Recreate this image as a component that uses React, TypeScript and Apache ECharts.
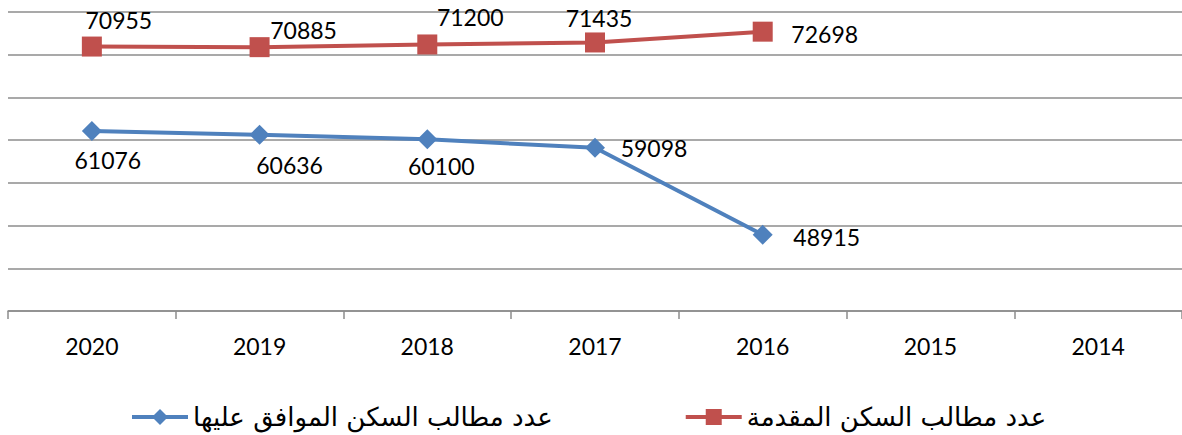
import React, { useEffect, useRef } from "react";
import * as echarts from "echarts";

const categories = ["2020", "2019", "2018", "2017", "2016", "2015", "2014"];
const submitted = [70955, 70885, 71200, 71435, 72698, null, null];
const approved = [61076, 60636, 60100, 59098, 48915, null, null];
const submittedName = "عدد مطالب السكن المقدمة";
const approvedName = "عدد مطالب السكن الموافق عليها";

// label offsets (style only) relative to each marker centre
const submittedLabelOffsets = [[27, -27], [44, -17], [43, -27], [4, -24], [62, 2]];
const approvedLabelOffsets = [[16, 29], [30, 30], [14, 27], [59, 0], [64, 2]];

const numFont = "Lato, 'Open Sans', sans-serif";

export default function App() {
  const ref = useRef<HTMLDivElement>(null);
  useEffect(() => {
    document.body.style.margin = "0";
    const chart = echarts.init(ref.current!, null, { renderer: "svg" });
    const withLabels = (arr: (number | null)[], offs: number[][]) =>
      arr.map((v, i) =>
        v == null ? v : { value: v, label: { position: "inside", offset: offs[i] || [0, 0] } }
      );
    chart.setOption({
      animation: false,
      grid: { left: 8, top: 12, width: 1176, height: 299 },
      legend: {
        top: 399,
        left: 125,
        itemGap: 131,
        itemWidth: 56,
        itemHeight: 20,
        lineStyle: { width: 4 },
        data: [approvedName, submittedName],
        textStyle: { fontFamily: "'DejaVu Sans', sans-serif", fontSize: 26, color: "#000" },
      },
      xAxis: {
        type: "category",
        data: categories,
        boundaryGap: true,
        axisLine: { lineStyle: { color: "#8c8c8c", width: 1.5 } },
        axisTick: { show: true, length: 8, lineStyle: { color: "#8c8c8c", width: 1.5 } },
        axisLabel: { color: "#000", fontSize: 23, fontFamily: numFont, margin: 23 },
      },
      yAxis: {
        type: "value",
        min: 40000,
        max: 75000,
        interval: 5000,
        axisLabel: { show: false },
        axisLine: { show: false },
        axisTick: { show: false },
        splitLine: { lineStyle: { color: "#8c8c8c", width: 1.5 } },
      },
      series: [
        {
          name: approvedName,
          type: "line",
          data: withLabels(approved, approvedLabelOffsets),
          symbol: "diamond",
          symbolSize: 20,
          itemStyle: { color: "#4F81BD" },
          lineStyle: { color: "#4F81BD", width: 4 },
          label: { show: true, color: "#000", fontSize: 23, fontFamily: numFont },
        },
        {
          name: submittedName,
          type: "line",
          data: withLabels(submitted, submittedLabelOffsets),
          symbol: "rect",
          symbolSize: 20,
          itemStyle: { color: "#C0504D" },
          lineStyle: { color: "#C0504D", width: 4 },
          label: { show: true, color: "#000", fontSize: 23, fontFamily: numFont },
        },
      ],
    });
    return () => chart.dispose();
  }, []);
  return <div ref={ref} style={{ width: 1182, height: 435 }} />;
}
